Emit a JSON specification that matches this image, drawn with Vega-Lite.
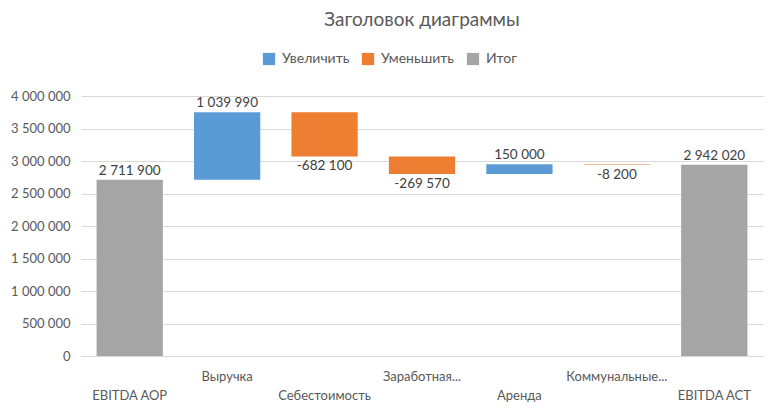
{
  "$schema": "https://vega.github.io/schema/vega-lite/v6.json",
  "width": 682,
  "height": 260,
  "autosize": {"type": "none"},
  "padding": {"left": 81, "top": 96, "right": 8, "bottom": 59},
  "background": "white",
  "title": {"text": "Заголовок диаграммы", "fontSize": 19, "font": "Lato", "fontWeight": "normal", "color": "#595959", "anchor": "middle", "frame": "group", "offset": 22},
  "data": {"values": [
    {"cat": "EBITDA AOP", "start": 0, "end": 2711900, "amount": 2711900, "type": "Итог"},
    {"cat": "Выручка", "start": 2711900, "end": 3751890, "amount": 1039990, "type": "Увеличить"},
    {"cat": "Себестоимость", "start": 3751890, "end": 3069790, "amount": -682100, "type": "Уменьшить"},
    {"cat": "Заработная...", "start": 3069790, "end": 2800220, "amount": -269570, "type": "Уменьшить"},
    {"cat": "Аренда", "start": 2800220, "end": 2950220, "amount": 150000, "type": "Увеличить"},
    {"cat": "Коммунальные...", "start": 2950220, "end": 2942020, "amount": -8200, "type": "Уменьшить"},
    {"cat": "EBITDA ACT", "start": 0, "end": 2942020, "amount": 2942020, "type": "Итог"}
  ]},
  "encoding": {
    "x": {"field": "cat", "type": "nominal", "sort": null,
      "scale": {"paddingInner": 0.32, "paddingOuter": 0.16},
      "axis": {"title": null, "labelAngle": 0, "ticks": false, "domainColor": "#D9D9D9", "labelColor": "#595959", "labelFontSize": 13, "labelFont": "Lato", "grid": false, "labelLimit": 200, "labelOverlap": false,
        "labelPadding": {"expr": "indexof(['Выручка','Заработная...','Коммунальные...'], datum.value) >= 0 ? 14 : 33"}}
    },
    "y": {"field": "end", "type": "quantitative",
      "scale": {"domain": [0, 4000000], "nice": false},
      "axis": {"title": null, "values": [0, 500000, 1000000, 1500000, 2000000, 2500000, 3000000, 3500000, 4000000], "format": ",d", "labelOverlap": false, "domain": false, "ticks": false, "gridColor": "#D9D9D9", "labelPadding": 11, "labelColor": "#595959", "labelFontSize": 13, "labelFont": "Lato"}}
  },
  "layer": [
    {
      "mark": {"type": "bar"},
      "encoding": {
        "y2": {"field": "start"},
        "color": {"field": "type", "type": "nominal",
          "scale": {"domain": ["Увеличить", "Уменьшить", "Итог"], "range": ["#5B9BD5", "#ED7D31", "#A5A5A5"]},
          "legend": {"title": null, "orient": "none", "legendX": 181, "legendY": -44, "direction": "horizontal", "symbolType": "square", "symbolSize": 150, "symbolStrokeWidth": 0, "symbolOpacity": 1, "labelFontSize": 14, "labelFont": "Lato", "labelColor": "#595959", "columnPadding": 11, "labelOffset": 6}}
      }
    },
    {
      "transform": [{"filter": "datum.amount >= 0"}],
      "mark": {"type": "text", "baseline": "bottom", "dy": -2, "fontSize": 13.5, "font": "Lato", "color": "#404040"},
      "encoding": {
        "text": {"field": "amount", "type": "quantitative", "format": ",d"}
      }
    },
    {
      "transform": [{"filter": "datum.amount < 0"}],
      "mark": {"type": "text", "baseline": "top", "dy": 3, "fontSize": 13.5, "font": "Lato", "color": "#404040"},
      "encoding": {
        "text": {"field": "amount", "type": "quantitative", "format": ",d"}
      }
    }
  ],
  "config": {
    "view": {"stroke": null},
    "locale": {"number": {"decimal": ",", "thousands": " ", "grouping": [3], "currency": ["", ""], "minus": "-"}}
  }
}
